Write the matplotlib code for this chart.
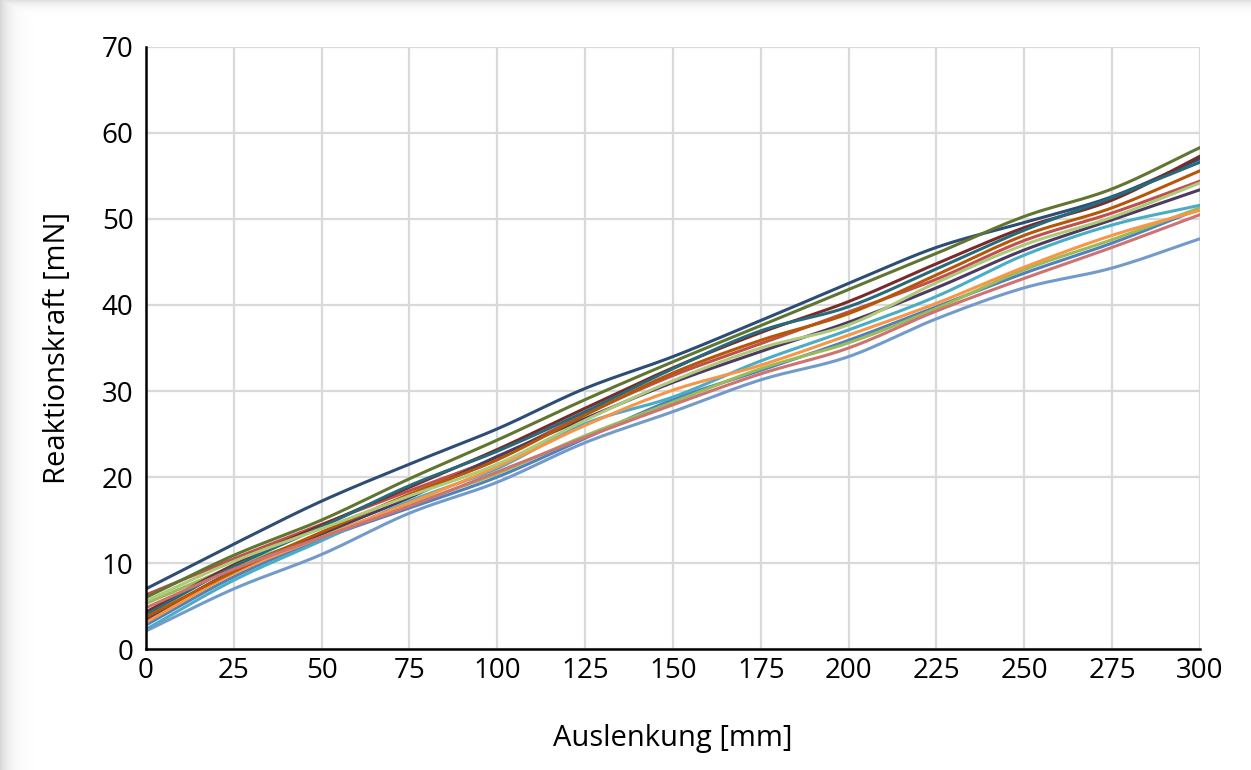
import numpy as np
import matplotlib.pyplot as plt

# deflection steps [mm]
auslenkung = [0, 25, 50, 75, 100, 125, 150, 175, 200, 225, 250, 275, 300]

# reaction force per sample [mN]
navy = [7.0, 12.2, 17.2, 21.5, 25.6, 30.3, 34.0, 38.2, 42.5, 46.7, 49.6, 52.6, 57.0]
dark_green = [6.0, 10.9, 15.0, 19.8, 24.3, 29.0, 33.4, 37.6, 41.8, 46.0, 50.3, 53.5, 58.3]
dark_red = [4.3, 9.8, 14.4, 18.8, 23.2, 28.0, 32.7, 36.8, 40.4, 44.8, 49.0, 52.2, 57.3]
dark_aqua = [4.0, 9.6, 14.2, 19.0, 23.0, 27.6, 32.6, 37.0, 39.8, 44.2, 48.7, 52.5, 56.6]
dark_orange = [3.7, 9.0, 13.6, 18.0, 22.0, 27.2, 32.1, 35.9, 39.0, 43.5, 48.1, 51.3, 55.6]
red = [6.3, 10.5, 14.5, 18.4, 22.3, 27.3, 31.8, 35.5, 39.2, 43.0, 47.5, 50.7, 54.4]
light_green = [5.6, 10.2, 14.0, 17.8, 21.5, 26.6, 31.2, 35.0, 37.7, 42.6, 47.0, 50.2, 54.2]
dark_purple = [3.4, 9.1, 13.4, 17.6, 22.4, 26.8, 31.0, 34.6, 38.0, 42.0, 46.4, 49.9, 53.4]
aqua = [2.3, 8.0, 12.6, 17.2, 21.0, 26.2, 29.3, 33.5, 37.1, 41.0, 45.8, 49.3, 51.6]
orange = [3.1, 8.8, 13.0, 17.0, 21.2, 26.0, 30.1, 33.0, 36.5, 40.2, 44.4, 48.1, 51.0]
green = [5.3, 9.6, 13.2, 16.8, 20.4, 24.8, 28.7, 32.6, 35.6, 39.6, 44.1, 47.6, 51.3]
blue = [2.8, 8.4, 12.8, 16.4, 20.0, 24.5, 29.0, 32.4, 35.9, 39.8, 43.7, 47.2, 51.2]
light_red = [4.8, 9.3, 13.0, 16.6, 20.6, 24.6, 28.4, 32.0, 35.0, 39.3, 43.1, 46.7, 50.5]
light_blue = [2.1, 7.0, 11.0, 15.8, 19.4, 24.0, 27.6, 31.3, 34.0, 38.4, 42.0, 44.3, 47.7]

series = [
    (blue, '#4F81BD'),
    (red, '#C0504D'),
    (green, '#9BBB59'),
    (dark_purple, '#4D3B62'),
    (aqua, '#4BACC6'),
    (orange, '#F79646'),
    (navy, '#2C4D75'),
    (dark_red, '#772C2A'),
    (dark_green, '#5F7530'),
    (dark_aqua, '#276A7C'),
    (dark_orange, '#B65708'),
    (light_blue, '#729ACA'),
    (light_red, '#CD7371'),
    (light_green, '#AFC97A'),
]


def smooth(x, y, n=20):
    # Catmull-Rom curve through the measured points (like a smoothed Excel line)
    x = np.asarray(x, float)
    y = np.asarray(y, float)
    px = np.concatenate([[2 * x[0] - x[1]], x, [2 * x[-1] - x[-2]]])
    py = np.concatenate([[2 * y[0] - y[1]], y, [2 * y[-1] - y[-2]]])
    t = np.linspace(0, 1, n, endpoint=False)
    xs, ys = [], []
    for i in range(1, len(px) - 2):
        for p, out in ((px, xs), (py, ys)):
            p0, p1, p2, p3 = p[i - 1], p[i], p[i + 1], p[i + 2]
            out.extend(0.5 * (2 * p1 + (-p0 + p2) * t
                              + (2 * p0 - 5 * p1 + 4 * p2 - p3) * t ** 2
                              + (-p0 + 3 * p1 - 3 * p2 + p3) * t ** 3))
    xs.append(x[-1])
    ys.append(y[-1])
    return xs, ys


plt.rcParams['font.family'] = ['Open Sans', 'DejaVu Sans']

fig = plt.figure(figsize=(12.51, 7.70), dpi=100)

# soft grey edge at the left and top border
bg = fig.add_axes([0, 0, 1, 1], zorder=-10)
bg.axis('off')
w, h = 1251, 770
xx = np.arange(w)[None, :]
yy = np.arange(h)[:, None]
shade = np.maximum(np.exp(-xx / 9.0) * 0.16, np.exp(-yy / 5.0) * 0.12)
bg.imshow(1 - shade, cmap='gray', vmin=0, vmax=1, aspect='auto',
          extent=[0, 1, 0, 1])

ax = fig.add_axes([0.1167, 0.1571, 0.8425, 0.7819])

for values, color in series:
    sx, sy = smooth(auslenkung, values)
    ax.plot(sx, sy, color=color, linewidth=2.2, solid_capstyle='round')

ax.set_xlim(0, 300)
ax.set_ylim(0, 70)
ax.set_xticks(range(0, 301, 25))
ax.set_yticks(range(0, 71, 10))
ax.grid(True, color='#D9D9D9', linewidth=1.6)
ax.set_axisbelow(True)
ax.set_facecolor('none')

for side in ['top', 'right']:
    ax.spines[side].set_visible(False)
for side in ['left', 'bottom']:
    ax.spines[side].set_color('black')
    ax.spines[side].set_linewidth(1.8)

ax.tick_params(axis='x', length=0, labelsize=20, pad=6)
ax.tick_params(axis='y', length=0, labelsize=20, pad=9)
ax.set_xlabel('Auslenkung [mm]', fontsize=21, labelpad=28)
ax.set_ylabel('Reaktionskraft [mN]', fontsize=21, labelpad=21)

fig.savefig('out.png', dpi=100, facecolor='white')
